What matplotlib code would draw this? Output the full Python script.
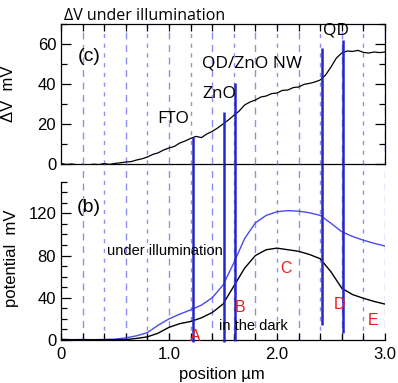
"""Surface potential profiles: dV under illumination (c) and potential (b)"""
import matplotlib
matplotlib.use('Agg')
import numpy as np
import matplotlib.pyplot as plt
from matplotlib.ticker import MultipleLocator, FixedLocator

plt.rcParams['font.family'] = ['Liberation Sans', 'DejaVu Sans']

# --- data -----------------------------------------------------------------
dv_x = np.round(np.arange(0, 3.0001, 0.05), 2)
dv_y = [0.3, -0.3, 0.0, -0.4, -0.2, -0.5, -0.1, -0.3, 0.2, -0.2,
        0.3, 0.6, 1.0, 1.2, 2.0, 2.6, 3.5, 4.8, 5.6, 7.0,
        8.0, 8.8, 10.5, 11.5, 12.8, 13.8, 13.2, 15.0, 16.3, 18.0,
        20.0, 22.0, 24.3, 26.5, 29.5, 31.0, 32.0, 33.5, 34.0, 35.2,
        35.5, 36.8, 37.0, 38.2, 38.5, 39.8, 40.3, 41.0, 42.0, 44.5,
        48.5, 53.0, 55.5, 56.5, 56.3, 56.8, 55.8, 55.5, 56.0, 55.7, 56.0]

pos_x = np.round(np.arange(0, 3.0001, 0.1), 1)
pot_light = [0.5, 0.3, 0.5, 0.3, 0.5, 0.8, 2, 4, 7, 14,
             20, 24.5, 28.5, 33, 40, 52, 73, 96, 111, 118,
             121.5, 122.5, 122, 120.5, 118, 110.5, 102.5, 98, 94.5, 91.5, 89]
pot_dark = [0.5, 0.3, 0.3, 0.2, 0.3, 0.3, 0.4, 1.5, 3, 6.5,
            12, 15.5, 17.5, 21, 26, 34, 51, 68, 80, 85.5,
            87, 85.5, 84, 81, 77, 64.5, 49, 43, 39.5, 36.5, 34]

# interface markers: x position, top in (c), bottom in (b)
iface_x = [1.22, 1.51, 1.61, 2.42, 2.61]
iface_top = [13.5, 26, 40.5, 58, 62]
iface_bot = [-2, -2, -1, 14, 7]

layer_labels = ['FTO', 'ZnO', 'QD/ZnO NW', 'QD']
layer_x = [1.04, 1.47, 1.77, 2.55]
layer_y = [22.5, 35, 50, 66.5]

region_labels = ['A', 'B', 'C', 'D', 'E']
region_x = [1.24, 1.66, 2.08, 2.58, 2.89]
region_y = [3, 31, 67.6, 34, 18]

grid_x = np.round(np.arange(0.2, 3.0001, 0.2), 1)

# --- figure ---------------------------------------------------------------
W, H = 398., 383.
fig = plt.figure(figsize=(W/100, H/100), dpi=100)
x0, x1 = 61/W, 385/W
ax_c = fig.add_axes([x0, 1-164/H, x1-x0, (164-24)/H])
ax_b = fig.add_axes([x0, 1-340/H, x1-x0, (340-164)/H])

gridc = '#8f8ff2'
iface_c = '#2626c8'
btop = 176/1.056

for ax in (ax_c, ax_b):
    ax.set_xlim(0, 3.0)
    ax.patch.set_alpha(0)
    for i, gx in enumerate(grid_x):
        ls = (0, (5, 4)) if i % 2 == 0 else (0, (3, 4))
        ax.axvline(gx, color=gridc, lw=1.0, ls=ls, zorder=0)

# (c) panel
ax_c.set_ylim(0, 70)
ax_c.plot(dv_x, dv_y, color='black', lw=0.9)
ax_c.vlines(iface_x, 0, iface_top, color=iface_c, lw=1.8, zorder=3)
ax_c.yaxis.set_major_locator(FixedLocator([0, 20, 40, 60]))
ax_c.yaxis.set_minor_locator(MultipleLocator(10))
ax_c.xaxis.set_major_locator(MultipleLocator(0.2))
ax_c.tick_params(axis='y', which='major', direction='in', length=7,
                 labelsize=12, right=True, width=0.9)
ax_c.tick_params(axis='y', which='minor', direction='in', length=4,
                 right=True, width=0.9)
ax_c.tick_params(axis='x', which='major', direction='in', length=5,
                 top=True, bottom=False, labelbottom=False, width=0.9)
ax_c.set_ylabel('\u0394V  mV', fontsize=12)
ax_c.yaxis.set_label_coords(-45/324, 0.5)
ax_c.text(0.26, 53.5, '(c)', fontsize=14, ha='center', va='center')
for lab, lx, ly in zip(layer_labels, layer_x, layer_y):
    ax_c.text(lx, ly, lab, fontsize=12.5, ha='center', va='center',
              family=['Open Sans', 'DejaVu Sans'])
fig.text(64/W, 1-16/H, '\u0394V under illumination', fontsize=11.5,
         family=['Open Sans', 'DejaVu Sans'], va='center')

# (b) panel
ax_b.plot(pos_x, pot_light, color='#4a4af0', lw=1.0)
ax_b.plot(pos_x, pot_dark, color='black', lw=1.0)
ax_b.vlines(iface_x, iface_bot, btop, color=iface_c, lw=1.8, zorder=3,
            clip_on=False)
ax_b.set_ylim(0, btop)
ax_b.spines['top'].set_visible(False)
ax_b.spines['right'].set_visible(False)
ax_b.spines['left'].set_bounds(0, 150)
ax_b.yaxis.set_major_locator(FixedLocator([0, 40, 80, 120]))
ax_b.yaxis.set_minor_locator(FixedLocator(np.arange(0, 151, 10)))
ax_b.xaxis.set_major_locator(FixedLocator([0, 1, 2, 3]))
ax_b.xaxis.set_minor_locator(MultipleLocator(0.2))
ax_b.set_xticklabels(['0', '1.0', '2.0', '3.0'])
ax_b.tick_params(axis='y', which='major', direction='in', length=7,
                 labelsize=12, width=0.9)
ax_b.tick_params(axis='y', which='minor', direction='in', length=4, width=0.9)
ax_b.tick_params(axis='x', which='both', direction='in', length=5,
                 labelsize=12, width=0.9, pad=5)
ax_b.set_ylabel('potential  mV', fontsize=12)
ax_b.yaxis.set_label_coords(-42/324, (340-258)/176)
ax_b.set_xlabel('position \u00b5m', fontsize=12)
ax_b.xaxis.set_label_coords((222-61)/324, -27/176)
ax_b.text(0.26, 125.7, '(b)', fontsize=14, ha='center', va='center')
ax_b.text(0.96, 84, 'under illumination', fontsize=10.5, ha='center', va='center')
ax_b.text(1.78, 13.3, 'in the dark', fontsize=10.5, ha='center', va='center')
for lab, rx, ry in zip(region_labels, region_x, region_y):
    ax_b.text(rx, ry, lab, fontsize=11.5, color='#e8201c', ha='center',
              va='center', zorder=4)

for ax in (ax_c, ax_b):
    for sp in ax.spines.values():
        sp.set_linewidth(0.9)

fig.savefig('out.png', dpi=100)
